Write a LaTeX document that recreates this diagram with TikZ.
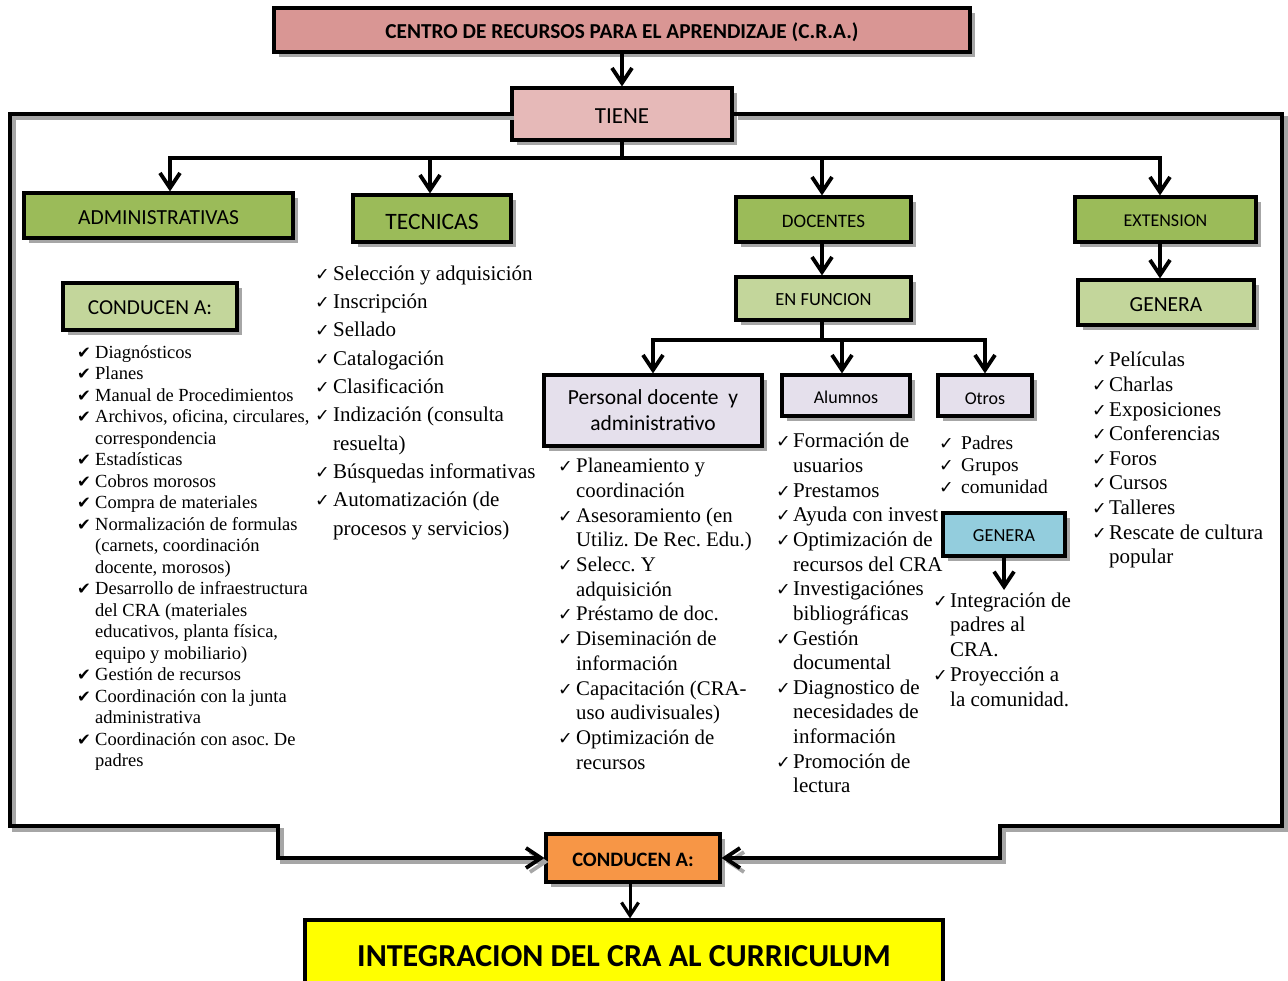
\documentclass[tikz,border=0pt]{standalone}
\usepackage{fontspec}
\setmainfont{Liberation Serif}
\newfontfamily\calfont{Carlito}
\newfontfamily\djv{DejaVu Sans}
\usetikzlibrary{arrows.meta,shadows}
\definecolor{crared}{HTML}{D99694}
\definecolor{tienepink}{HTML}{E6B9B8}
\definecolor{dkgreen}{HTML}{9BBB59}
\definecolor{ltgreen}{HTML}{C3D69B}
\definecolor{lavender}{HTML}{E5E0EC}
\definecolor{ltblue}{HTML}{93CDDD}
\definecolor{orng}{HTML}{F79646}
\definecolor{ylw}{HTML}{FFFF00}
\definecolor{shadowgray}{HTML}{A6A6A6}
\newcommand\ckH[1]{\makebox[#1][l]{\djv\fontsize{16.5}{16}\selectfont ✔}}
\newcommand\ckT[1]{\makebox[#1][l]{\djv\fontsize{17.5}{16}\selectfont ✓}}
\newcommand\lowr[2][-2.5pt]{\raisebox{#1}[\height][\depth]{#2}}
\frenchspacing
\begin{document}
\begin{tikzpicture}[x=1pt,y=-1pt,
  box/.style={draw=black, line width=3.2pt, inner sep=0pt, align=center,
    drop shadow={shadow xshift=5pt, shadow yshift=-5pt, fill=shadowgray, opacity=1}},
  conn/.style={line width=4pt},
  arr/.style={line width=4pt, -{Straight Barb[length=15pt,width=20pt,line width=3.8pt]}},
  frame/.style={line width=4pt, preaction={draw=shadowgray, line width=4pt, transform canvas={shift={(4pt,-4pt)}}}},
  lst/.style={anchor=north west, inner sep=0pt, align=left}]
\useasboundingbox (0,0) rectangle (1288,981);

% boxes
\node[box, fill=crared, minimum width=696pt, minimum height=44pt, font=\calfont\bfseries\fontsize{21.3}{22}\selectfont] (cra) at (622,30) {\lowr{CENTRO DE RECURSOS PARA EL APRENDIZAJE (C.R.A.)}};
\node[box, fill=tienepink, minimum width=220pt, minimum height=52pt, font=\calfont\fontsize{23}{24}\selectfont] (tiene) at (622,114) {\lowr{TIENE}};
\node[box, fill=dkgreen, minimum width=269pt, minimum height=45pt, font=\calfont\fontsize{21.5}{22}\selectfont] (adm) at (158.5,215.5) {\lowr{ADMINISTRATIVAS}};
\node[box, fill=dkgreen, minimum width=158pt, minimum height=47pt, font=\calfont\fontsize{23.5}{24}\selectfont] (tec) at (432,218.5) {\lowr[-3pt]{TECNICAS}};
\node[box, fill=dkgreen, minimum width=175pt, minimum height=45pt, font=\calfont\fontsize{19}{20}\selectfont] (doc) at (823.5,219.5) {\lowr[-1.5pt]{DOCENTES}};
\node[box, fill=dkgreen, minimum width=181pt, minimum height=45pt, font=\calfont\fontsize{18}{20}\selectfont] (ext) at (1165.5,219.5) {\lowr[-1.5pt]{EXTENSION}};
\node[box, fill=ltgreen, minimum width=175pt, minimum height=43pt, font=\calfont\fontsize{18.5}{20}\selectfont] (enf) at (823.5,298.5) {\lowr[-1pt]{EN FUNCION}};
\node[box, fill=ltgreen, minimum width=176pt, minimum height=45pt, font=\calfont\fontsize{21.5}{22}\selectfont] (gen) at (1166,302.5) {\lowr[-2.5pt]{GENERA}};
\node[box, fill=ltgreen, minimum width=174pt, minimum height=47pt, font=\calfont\fontsize{21.3}{22}\selectfont] (cona) at (150,306.5) {\lowr[-1pt]{CONDUCEN A:}};
\node[box, fill=lavender, minimum width=218pt, minimum height=71pt, font=\calfont\fontsize{21.5}{26}\selectfont] (pers) at (653,410.5) {Personal docente\ \ y\\administrativo};
\node[box, fill=lavender, minimum width=128pt, minimum height=41pt, font=\calfont\fontsize{18}{20}\selectfont] (alu) at (846,395.5) {\lowr[-2pt]{Alumnos}};
\node[box, fill=lavender, minimum width=94pt, minimum height=41pt, font=\calfont\fontsize{18}{20}\selectfont] (otr) at (985,395.5) {\lowr[-3.5pt]{Otros}};
\node[box, fill=orng, minimum width=174pt, minimum height=48pt, font=\calfont\bfseries\fontsize{20.5}{22}\selectfont] (conb) at (633,858) {\lowr[-2pt]{CONDUCEN A:}};
\node[draw=black, line width=3.2pt, fill=ylw, inner sep=0pt, minimum width=638pt, minimum height=72pt, font=\calfont\bfseries\fontsize{32}{34}\selectfont] (integ) at (624,956) {INTEGRACION DEL CRA AL CURRICULUM};

% lists
\node[lst, font=\fontsize{18.5}{21.5}\selectfont] (ladm) at (77,343) {\strut\ckH{18pt}Diagnósticos\\
\ckH{18pt}Planes\\
\ckH{18pt}Manual de Procedimientos\\
\ckH{18pt}Archivos, oficina, circulares,\\
\hspace*{18pt}correspondencia\\
\ckH{18pt}Estadísticas\\
\ckH{18pt}Cobros morosos\\
\ckH{18pt}Compra de materiales\\
\ckH{18pt}Normalización de formulas\\
\hspace*{18pt}(carnets, coordinación\\
\hspace*{18pt}docente, morosos)\\
\ckH{18pt}Desarrollo de infraestructura\\
\hspace*{18pt}del CRA (materiales\\
\hspace*{18pt}educativos, planta física,\\
\hspace*{18pt}equipo y mobiliario)\\
\ckH{18pt}Gestión de recursos\\
\ckH{18pt}Coordinación con la junta\\
\hspace*{18pt}administrativa\\
\ckH{18pt}Coordinación con asoc. De\\
\hspace*{18pt}padres};

\node[lst, font=\fontsize{21}{28.33}\selectfont] (ltec) at (315,260) {\strut\ckT{18pt}Selección y adquisición\\
\ckT{18pt}Inscripción\\
\ckT{18pt}Sellado\\
\ckT{18pt}Catalogación\\
\ckT{18pt}Clasificación\\
\ckT{18pt}Indización (consulta\\
\hspace*{18pt}resuelta)\\
\ckT{18pt}Búsquedas informativas\\
\ckT{18pt}Automatización (de\\
\hspace*{18pt}procesos y servicios)};

\node[lst, font=\fontsize{20.8}{24.67}\selectfont] (lpers) at (558,455.5) {\strut\ckT{18pt}Planeamiento y\\
\hspace*{18pt}coordinación\\
\ckT{18pt}Asesoramiento (en\\
\hspace*{18pt}Utiliz. De Rec. Edu.)\\
\ckT{18pt}Selecc. Y\\
\hspace*{18pt}adquisición\\
\ckT{18pt}Préstamo de doc.\\
\ckT{18pt}Diseminación de\\
\hspace*{18pt}información\\
\ckT{18pt}Capacitación (CRA-\\
\hspace*{18pt}uso audivisuales)\\
\ckT{18pt}Optimización de\\
\hspace*{18pt}recursos};

\node[lst, font=\fontsize{21}{24.64}\selectfont] (lalu) at (776,430.5) {\strut\ckT{17pt}Formación de\\
\hspace*{17pt}usuarios\\
\ckT{17pt}Prestamos\\
\ckT{17pt}Ayuda con invest\\
\ckT{17pt}Optimización de\\
\hspace*{17pt}recursos del CRA\\
\ckT{17pt}Investigaciónes\\
\hspace*{17pt}bibliográficas\\
\ckT{17pt}Gestión\\
\hspace*{17pt}documental\\
\ckT{17pt}Diagnostico de\\
\hspace*{17pt}necesidades de\\
\hspace*{17pt}información\\
\ckT{17pt}Promoción de\\
\hspace*{17pt}lectura};

\node[lst, font=\fontsize{19.5}{22}\selectfont] (lotr) at (939,434) {\strut\ckT{22pt}Padres\\
\ckT{22pt}Grupos\\
\ckT{22pt}comunidad};

\node[lst, font=\fontsize{21}{24.75}\selectfont] (lgenb) at (933,589.5) {\strut\ckT{17pt}Integración de\\
\hspace*{17pt}padres al\\
\hspace*{17pt}CRA.\\
\ckT{17pt}Proyección a\\
\hspace*{17pt}la comunidad.};

\node[lst, font=\fontsize{21}{24.6}\selectfont] (lext) at (1092,349.5) {\strut\ckT{17pt}Películas\\
\ckT{17pt}Charlas\\
\ckT{17pt}Exposiciones\\
\ckT{17pt}Conferencias\\
\ckT{17pt}Foros\\
\ckT{17pt}Cursos\\
\ckT{17pt}Talleres\\
\ckT{17pt}Rescate de cultura\\
\hspace*{17pt}popular};

% blue GENERA drawn over the list text
\node[box, fill=ltblue, minimum width=122pt, minimum height=43pt, font=\calfont\fontsize{18.4}{20}\selectfont] (genb) at (1004,534.5) {\lowr[-1.5pt]{GENERA}};

% connectors
\draw[arr] (cra) -- (tiene);
\coordinate (bus) at (622,158);
\draw[conn] (tiene.south) -- (bus);
\draw[arr] (bus) -| ([xshift=11.5pt]adm.north);
\draw[arr] (bus) -| ([xshift=-2pt]tec.north);
\draw[arr] (bus) -| ([xshift=-1.5pt]doc.north);
\draw[arr] (bus) -| ([xshift=-5.5pt]ext.north);
\draw[arr] ([xshift=-1.5pt]doc.south) -- ([xshift=-1.5pt]enf.north);
\draw[arr] ([xshift=-5.5pt]ext.south) -- ([xshift=-6pt]gen.north);
\coordinate (bus2) at (822,340);
\draw[conn] ([xshift=-1.5pt]enf.south) -- (bus2);
\draw[arr] (bus2) -| (pers.north);
\draw[arr] (bus2) -| ([xshift=-4pt]alu.north);
\draw[arr] (bus2) -| (otr.north);
\coordinate (gtip) at (1004,590);
\draw[arr] (genb.south) -- (gtip);
\coordinate (fl) at (10,826);
\coordinate (fb) at (278,858);
\coordinate (fr) at (1282,826);
\coordinate (fc) at (1000,858);
\draw[frame, -{Straight Barb[length=15pt,width=20pt,line width=3.8pt]}] (tiene.west) -| (fl) -| (fb) -- (conb.west);
\draw[frame, -{Straight Barb[length=15pt,width=20pt,line width=3.8pt]}] (tiene.east) -| (fr) -| (fc) -- (conb.east);
\draw[line width=3pt, -{Straight Barb[length=13pt,width=17pt,line width=3.2pt]}] ([xshift=-3pt]conb.south) -- ([xshift=6pt]integ.north);
\end{tikzpicture}
\end{document}
